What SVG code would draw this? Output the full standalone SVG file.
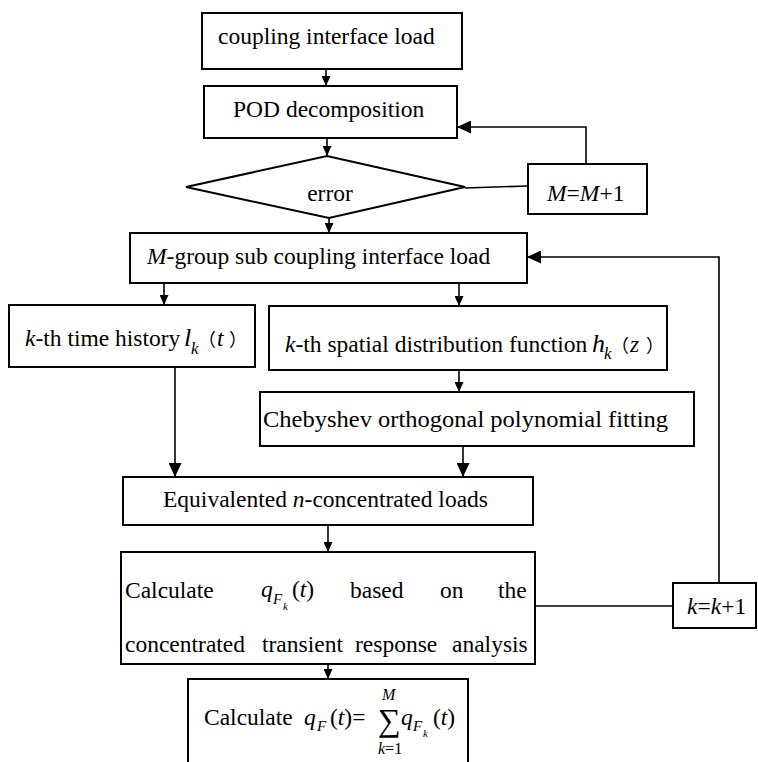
<svg xmlns="http://www.w3.org/2000/svg" width="758" height="762" viewBox="0 0 758 762">
<style>
.box{fill:#fff;stroke:#000;stroke-width:2}
.ln{fill:none;stroke:#000;stroke-width:1.6}
.t{font-size:23.5px;fill:#000}
.i{font-style:italic}
</style>
<defs>
<marker id="a" markerUnits="userSpaceOnUse" markerWidth="10" markerHeight="9" refX="10" refY="4.5" orient="auto"><path d="M0,0 L10,4.5 L0,9 z" fill="#000"/></marker>
<marker id="b" markerUnits="userSpaceOnUse" markerWidth="14" markerHeight="13" refX="14" refY="6.5" orient="auto"><path d="M0,0 L14,6.5 L0,13 z" fill="#000"/></marker>
</defs>
<rect width="758" height="762" fill="#fff"/>
<g id="connectors">
<line class="ln" x1="326" y1="69" x2="326" y2="86" marker-end="url(#a)"/>
<line class="ln" x1="327" y1="138" x2="327" y2="156" marker-end="url(#a)"/>
<line class="ln" x1="329" y1="218" x2="329" y2="233" marker-end="url(#a)"/>
<polyline class="ln" points="586,164 586,127 457,127" marker-end="url(#b)"/>
<line class="ln" x1="465" y1="188" x2="528" y2="186"/>
<line class="ln" x1="164" y1="283" x2="164" y2="305" marker-end="url(#a)"/>
<line class="ln" x1="459" y1="283" x2="459" y2="306" marker-end="url(#a)"/>
<line class="ln" x1="459" y1="370" x2="459" y2="392" marker-end="url(#a)"/>
<line class="ln" x1="175" y1="367" x2="175" y2="477" marker-end="url(#b)"/>
<line class="ln" x1="463" y1="446" x2="463" y2="477" marker-end="url(#b)"/>
<line class="ln" x1="328" y1="525" x2="328" y2="552" marker-end="url(#a)"/>
<line class="ln" x1="328" y1="664" x2="328" y2="679" marker-end="url(#a)"/>
<line class="ln" x1="535" y1="606" x2="673" y2="606"/>
<polyline class="ln" points="719,583 719,257 527,257" marker-end="url(#b)"/>
</g>
<g font-family="'Liberation Serif', 'Times New Roman', 'DejaVu Serif', serif">
<g id="n1">
<rect class="box" x="202" y="13" width="260" height="56"/>
<text class="t" x="218" y="44">coupling interface load</text>
</g>
<g id="n2">
<rect class="box" x="204" y="86" width="253" height="52"/>
<text class="t" x="233" y="117">POD decomposition</text>
</g>
<g id="n3">
<polygon class="box" points="186,187 327,156 465,187 329,218"/>
<text class="t" x="330" y="201" text-anchor="middle">error</text>
</g>
<g id="n4">
<rect class="box" x="528" y="164" width="119" height="50"/>
<text class="t" x="547" y="201"><tspan class="i">M</tspan>=<tspan class="i">M</tspan>+1</text>
</g>
<g id="n5">
<rect class="box" x="130" y="233" width="397" height="50"/>
<text class="t" x="147" y="264"><tspan class="i">M</tspan>-group sub coupling interface load</text>
</g>
<g id="n6">
<rect class="box" x="9" y="305" width="246" height="62"/>
<text class="t" x="25" y="346"><tspan class="i">k</tspan>-th time history<tspan class="i" x="184" font-size="26">l</tspan><tspan class="i" x="191" y="354" font-size="17">k</tspan><tspan x="198" y="346" font-family="'Noto Sans CJK SC', sans-serif" font-size="18">（</tspan><tspan class="i" x="217">t</tspan><tspan x="229" font-family="'Noto Sans CJK SC', sans-serif" font-size="18">）</tspan></text>
</g>
<g id="n7">
<rect class="box" x="269" y="306" width="398" height="64"/>
<text class="t" x="285" y="352"><tspan class="i">k</tspan>-th spatial distribution function<tspan class="i" x="592" font-size="26">h</tspan><tspan class="i" x="604" y="359" font-size="17">k</tspan><tspan x="611" y="352" font-family="'Noto Sans CJK SC', sans-serif" font-size="18">（</tspan><tspan class="i" x="630">z</tspan><tspan x="646" font-family="'Noto Sans CJK SC', sans-serif" font-size="18">）</tspan></text>
</g>
<g id="n8">
<rect class="box" x="260" y="392" width="434" height="54"/>
<text class="t" x="263" y="427" textLength="405" lengthAdjust="spacingAndGlyphs">Chebyshev orthogonal polynomial fitting</text>
</g>
<g id="n9">
<rect class="box" x="123" y="477" width="410" height="48"/>
<text class="t" x="163" y="507">Equivalented <tspan class="i">n</tspan>-concentrated loads</text>
</g>
<g id="n10">
<rect class="box" x="121" y="552" width="414" height="112"/>
<text class="t" x="125" y="598">Calculate</text>
<text class="t" x="261" y="597" font-size="24"><tspan class="i">q</tspan><tspan class="i" x="273" y="604" font-size="15">F</tspan><tspan class="i" x="283" y="610" font-size="11">k</tspan><tspan x="292" y="597">(</tspan><tspan class="i">t</tspan>)</text>
<text class="t" x="350" y="598">based</text>
<text class="t" x="440" y="598">on</text>
<text class="t" x="498" y="598">the</text>
<text class="t" x="125" y="652">concentrated</text>
<text class="t" x="262" y="652">transient</text>
<text class="t" x="355" y="652">response</text>
<text class="t" x="452" y="652">analysis</text>
</g>
<g id="n11">
<rect class="box" x="188" y="679" width="280" height="90"/>
<text class="t" x="204" y="725">Calculate</text>
<text class="t" x="304" y="725" font-size="24"><tspan class="i">q</tspan><tspan class="i" x="317" y="731" font-size="15">F</tspan><tspan x="330" y="725">(</tspan><tspan class="i">t</tspan>)=<tspan x="378" y="731" font-size="32">∑</tspan><tspan class="i" x="382" y="700" font-size="16">M</tspan><tspan class="i" x="378" y="754" font-size="16">k</tspan><tspan font-size="16">=1</tspan><tspan class="i" x="401" y="725">q</tspan><tspan class="i" x="413" y="731" font-size="15">F</tspan><tspan class="i" x="423" y="737" font-size="11">k</tspan><tspan x="433" y="725">(</tspan><tspan class="i">t</tspan>)</text>
</g>
<g id="n12">
<rect class="box" x="673" y="583" width="83" height="45"/>
<text class="t" x="687" y="614"><tspan class="i">k</tspan>=<tspan class="i">k</tspan>+1</text>
</g>
</g>
</svg>
